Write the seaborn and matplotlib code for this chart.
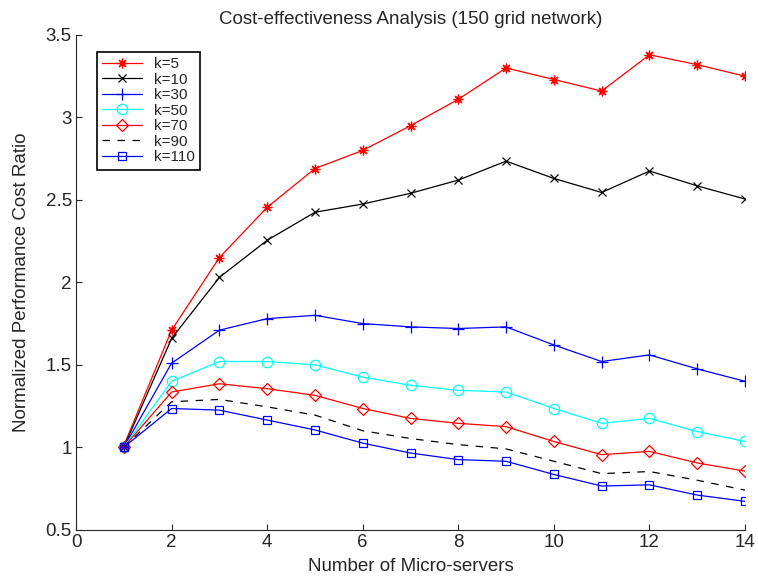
import matplotlib
matplotlib.use("Agg")
import matplotlib.pyplot as plt
import seaborn as sns
import pandas as pd
from matplotlib.ticker import FuncFormatter

servers = list(range(1, 15))
k5 = [1.01, 1.71, 2.15, 2.455, 2.69, 2.80, 2.95, 3.11, 3.30, 3.23, 3.16, 3.38, 3.32, 3.25]
k10 = [1.0, 1.66, 2.03, 2.255, 2.425, 2.475, 2.54, 2.62, 2.735, 2.63, 2.545, 2.675, 2.585, 2.505]
k30 = [1.0, 1.51, 1.71, 1.78, 1.80, 1.75, 1.73, 1.72, 1.73, 1.62, 1.52, 1.56, 1.475, 1.40]
k50 = [1.0, 1.40, 1.52, 1.52, 1.50, 1.425, 1.376, 1.345, 1.335, 1.235, 1.145, 1.175, 1.095, 1.035]
k70 = [1.0, 1.335, 1.385, 1.355, 1.315, 1.235, 1.175, 1.145, 1.125, 1.035, 0.955, 0.975, 0.905, 0.855]
k90 = [1.0, 1.276, 1.29, 1.245, 1.195, 1.10, 1.053, 1.016, 0.99, 0.915, 0.84, 0.853, 0.80, 0.74]
k110 = [1.0, 1.235, 1.225, 1.165, 1.105, 1.025, 0.965, 0.925, 0.915, 0.835, 0.765, 0.772, 0.71, 0.672]

labels = ["k=5", "k=10", "k=30", "k=50", "k=70", "k=90", "k=110"]
series = [k5, k10, k30, k50, k70, k90, k110]
colors = ["#ff0000", "#000000", "#0000ff", "#00ffff", "#ff0000", "#000000", "#0000ff"]
markers = [(8, 2, 0), "x", "+", "o", "D", None, "s"]
msizes = [7, 5.5, 8, 7.5, 6.5, 0, 6]
lstyles = ["-", "-", "-", "-", "-", (0, (6, 6)), "-"]

sns.set_style("ticks")
plt.rcParams["font.family"] = ["Liberation Sans", "DejaVu Sans"]

fig = plt.figure(figsize=(7.58, 5.8), dpi=100)
ax = fig.add_axes([0.1003, 0.0867, 0.8826, 0.853])

for lab, vals, c, m, ms, ls in zip(labels, series, colors, markers, msizes, lstyles):
    df = pd.DataFrame({"x": servers, "y": vals})
    kw = dict(marker=m, markersize=ms, markerfacecolor="none", markeredgecolor=c,
              markeredgewidth=0.9) if m is not None else {}
    sns.lineplot(data=df, x="x", y="y", ax=ax, color=c, linewidth=0.9,
                 linestyle=ls, label=lab, **kw)

ax.set_xlim(0, 14)
ax.set_ylim(0.5, 3.5)
ax.set_xticks(range(0, 15, 2))
ax.set_yticks([0.5, 1, 1.5, 2, 2.5, 3, 3.5])
ax.yaxis.set_major_formatter(FuncFormatter(lambda v, p: f"{v:g}"))
ax.tick_params(direction="in", length=4, labelsize=13.5, width=0.8, pad=3)
for s in ["top", "right"]:
    ax.spines[s].set_visible(False)
for s in ["left", "bottom"]:
    ax.spines[s].set_linewidth(0.8)

ax.set_xlabel("Number of Micro-servers", fontsize=13.5, labelpad=5)
ax.set_ylabel("Normalized Performance Cost Ratio", fontsize=13.5, labelpad=11)
ax.set_title("Cost-effectiveness Analysis (150 grid network)", fontsize=13.5, pad=8)

leg = ax.legend(loc="upper left", bbox_to_anchor=(0.031, 0.966), fontsize=11,
                frameon=True, fancybox=False, framealpha=1, edgecolor="black",
                handlelength=2.6, labelspacing=0.1, borderpad=0.35, handletextpad=0.8,
                borderaxespad=0)
leg.get_frame().set_linewidth(1.2)

fig.savefig("out.png", dpi=100)
